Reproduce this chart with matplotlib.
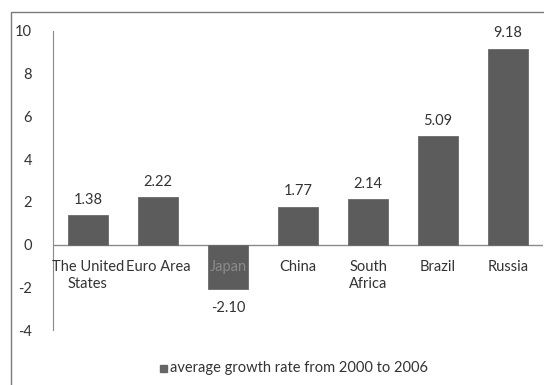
import matplotlib.pyplot as plt
from matplotlib.patches import Rectangle

countries = ["The United\nStates", "Euro Area", "Japan", "China", "South\nAfrica", "Brazil", "Russia"]
growth = [1.38, 2.22, -2.10, 1.77, 2.14, 5.09, 9.18]
yticks = [-4, -2, 0, 2, 4, 6, 8, 10]

plt.rcParams['font.family'] = ['Lato', 'DejaVu Sans']

fig = plt.figure(figsize=(5.44, 3.85), dpi=100)
ax = fig.add_axes([53 / 544, 1 - 330 / 385, 490 / 544, 299 / 385])

x = list(range(len(countries)))
bars = ax.bar(x, growth, width=0.56, color="#5c5c5c", edgecolor="#6a6a6a", linewidth=0.6, zorder=2)

ax.set_xlim(-0.5, len(countries) - 0.5)
ax.set_ylim(-4, 10)
ax.set_yticks(yticks)
ax.set_yticklabels([str(v) for v in yticks], fontsize=10.5, color="#333333")
ax.tick_params(axis="y", length=0, pad=15)
ax.set_xticks([])
ax.axhline(0, color="#8a8a8a", linewidth=1, zorder=1)

for s in ["top", "right", "bottom"]:
    ax.spines[s].set_visible(False)
ax.spines["left"].set_color("#8a8a8a")

# value labels
for xi, v in zip(x, growth):
    if v >= 0:
        ax.annotate(f"{v:.2f}", (xi, v), xytext=(0, 6), textcoords="offset points",
                    ha="center", va="bottom", fontsize=10.5, color="#333333")
    else:
        ax.annotate(f"{v:.2f}", (xi, v), xytext=(0, -8), textcoords="offset points",
                    ha="center", va="top", fontsize=10.5, color="#333333")

# category labels next to the zero line
for xi, name in zip(x, countries):
    col = "#8a8a8a" if name == "Japan" else "#333333"
    ax.annotate(name, (xi, 0), xytext=(0, -11), textcoords="offset points",
                ha="center", va="top", fontsize=10.5, color=col, linespacing=1.3, zorder=3)

# legend
fig.patches.append(Rectangle((160 / 544, 1 - 372 / 385), 7 / 544, 7 / 385,
                             transform=fig.transFigure, color="#666666"))
fig.text(170 / 544, 1 - 368 / 385, "average growth rate from 2000 to 2006",
         fontsize=10.5, color="#333333", va="center", ha="left")

# chart border
fig.patches.append(Rectangle((11 / 544, -0.1), 1.0, 1 - 12 / 385 + 0.1,
                             transform=fig.transFigure, fill=False,
                             edgecolor="#7a7a7a", linewidth=1))

fig.savefig("out.png", dpi=100)
